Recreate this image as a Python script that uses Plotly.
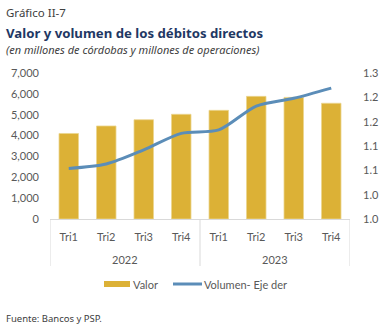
import plotly.graph_objects as go

years = ["2022", "2023"]
quarters = ["Tri1", "Tri2", "Tri3", "Tri4", "Tri1", "Tri2", "Tri3", "Tri4"]
valor = [4100, 4460, 4760, 5020, 5210, 5880, 5830, 5550]
volumen = [1.104, 1.113, 1.142, 1.176, 1.183, 1.232, 1.248, 1.269]

left_ticks = [0, 1000, 2000, 3000, 4000, 5000, 6000, 7000]
left_labels = ["0", "1,000", "2,000", "3,000", "4,000", "5,000", "6,000", "7,000"]
right_ticks = [1.0, 1.05, 1.10, 1.15, 1.20, 1.25, 1.30]
right_labels = ["1.0", "1.0", "1.1", "1.1", "1.2", "1.2", "1.3"]

pos = list(range(len(quarters)))
per_year = len(quarters) // len(years)

gold = "#DCB136"
blue = "#5B8DB8"
tick_col = "#595959"
line_col = "#D9D9D9"
tfont = "Lato, Liberation Sans, sans-serif"
hfont = "Noto Sans, sans-serif"

W, H = 389, 330
L, R, T, B = 50, 39, 73, 111
PW, PH = W - L - R, H - T - B


def px_x(x):
    return (x - L) / PW


def px_y(y):
    return (H - B - y) / PH


fig = go.Figure()
fig.add_trace(go.Bar(
    x=pos, y=valor, name="Valor",
    marker=dict(color=gold, line=dict(color="#EBD58F", width=0.8)),
    width=0.52, showlegend=False,
))
fig.add_trace(go.Scatter(
    x=pos, y=volumen, name="Volumen- Eje der",
    mode="lines", line=dict(color=blue, width=3, shape="spline", smoothing=0.8),
    yaxis="y2", showlegend=False,
))

fig.update_layout(
    width=W, height=H,
    margin=dict(l=L, r=R, t=T, b=B),
    paper_bgcolor="white", plot_bgcolor="white",
    showlegend=False,
    xaxis=dict(
        range=[-0.5, len(quarters) - 0.5],
        tickvals=pos, ticktext=quarters,
        tickfont=dict(family=tfont, size=11, color=tick_col),
        showline=True, linecolor=line_col, linewidth=1,
        ticks="", showgrid=False, zeroline=False,
        ticklabelstandoff=8, automargin=False,
    ),
    yaxis=dict(
        range=[0, 7000], tickvals=left_ticks, ticktext=left_labels,
        tickfont=dict(family=tfont, size=11, color=tick_col),
        showgrid=False, zeroline=False, showline=False, ticks="",
        ticklabelstandoff=10, automargin=False,
    ),
    yaxis2=dict(
        range=[1.0, 1.3], tickvals=right_ticks, ticktext=right_labels,
        overlaying="y", side="right",
        tickfont=dict(family=tfont, size=11, color=tick_col),
        showgrid=False, zeroline=False, showline=False, ticks="",
        ticklabelstandoff=12, automargin=False,
    ),
)

# year group labels and dividers
for i, yr in enumerate(years):
    center = i * per_year + (per_year - 1) / 2
    fig.add_annotation(text=yr, xref="x", yref="paper", x=center, y=px_y(259),
                       showarrow=False, xanchor="center", yanchor="middle",
                       font=dict(family=tfont, size=11, color=tick_col))
for k in range(len(years) + 1):
    xd = k * per_year - 0.5
    fig.add_shape(type="line", xref="x", yref="paper", x0=xd, x1=xd,
                  y0=0, y1=px_y(266), line=dict(color=line_col, width=1))

# legend (manual)
fig.add_shape(type="rect", xref="paper", yref="paper",
              x0=px_x(104), x1=px_x(130), y0=px_y(281), y1=px_y(287),
              fillcolor=gold, line=dict(width=0))
fig.add_annotation(text="Valor", xref="paper", yref="paper", x=px_x(131), y=px_y(284),
                   xanchor="left", yanchor="middle", showarrow=False,
                   font=dict(family=tfont, size=11, color=tick_col))
fig.add_shape(type="line", xref="paper", yref="paper",
              x0=px_x(173), x1=px_x(202), y0=px_y(284), y1=px_y(284),
              line=dict(color=blue, width=3))
fig.add_annotation(text="Volumen- Eje der", xref="paper", yref="paper", x=px_x(202), y=px_y(284),
                   xanchor="left", yanchor="middle", showarrow=False,
                   font=dict(family=tfont, size=11, color=tick_col))

annos = [
    dict(text="Gráfico II-7", y=12, size=11.5, color="#404040"),
    dict(text="<b>Valor y volumen de los débitos directos</b>", y=33, size=13.2, color="#1F3864"),
    dict(text="<i>(en millones de córdobas y millones de operaciones)</i>", y=49, size=11, color="#404040"),
    dict(text="Fuente: Bancos y PSP.", y=318, size=9.5, color="#404040"),
]
for a in annos:
    fig.add_annotation(
        text=a["text"], xref="paper", yref="paper",
        x=px_x(4), y=px_y(a["y"]),
        xanchor="left", yanchor="middle", showarrow=False,
        font=dict(family=hfont, size=a["size"], color=a["color"]),
    )

fig.write_html("out.html")
